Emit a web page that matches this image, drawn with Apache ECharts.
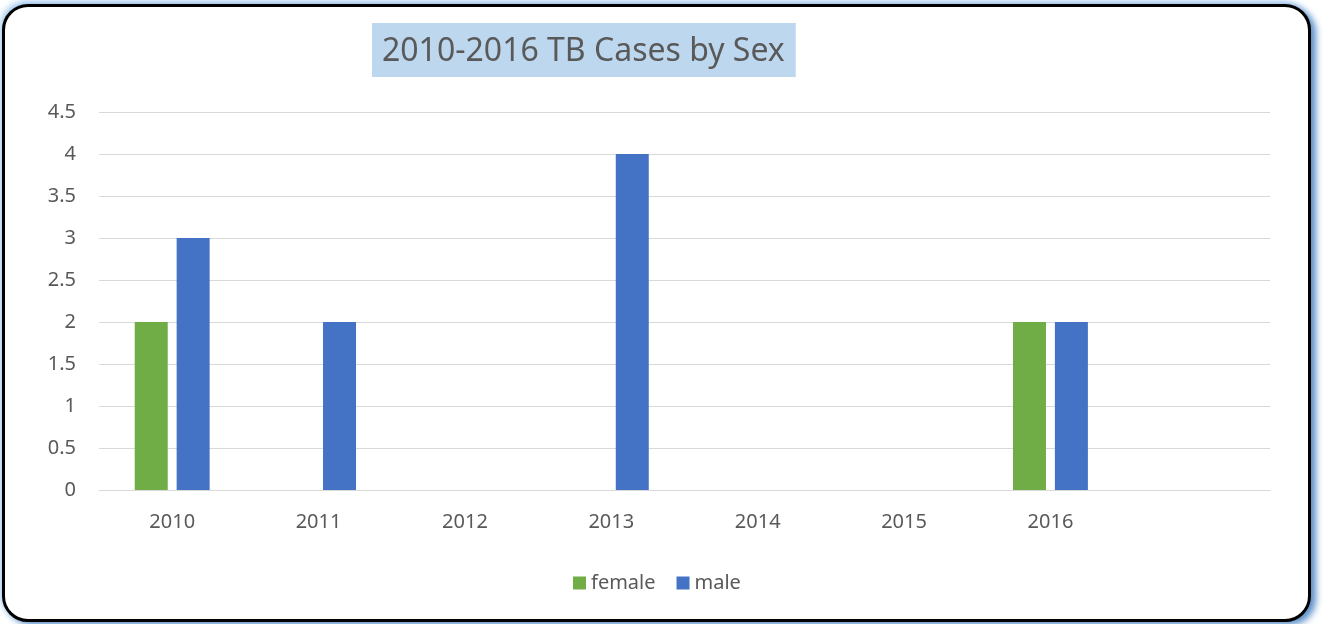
<!DOCTYPE html>
<html>
<head>
<meta charset="utf-8">
<title>2010-2016 TB Cases by Sex</title>
<script src="https://cdn.jsdelivr.net/npm/echarts@6/dist/echarts.min.js"></script>
<style>
  html, body { margin: 0; padding: 0; background: #fff; }
  #wrap { position: relative; width: 1325px; height: 624px; overflow: hidden; }
  /* rounded frame with blue glow, like the office chart border */
  #frame {
    position: absolute; left: 2px; top: 4px; width: 1303px; height: 612px;
    border: 3px solid #000; border-radius: 26px;
    box-shadow: 5px 3px 7px #5b8fc9, -2px -3px 6px #a9cdef;
    background: #fff;
  }
  #chart { position: absolute; left: 0; top: 0; width: 1325px; height: 624px; }
</style>
</head>
<body>
<div id="wrap">
  <div id="frame"></div>
  <div id="chart"></div>
</div>
<script>
// 数据
var years = ["2010", "2011", "2012", "2013", "2014", "2015", "2016", ""];
var female = [2, 0, 0, 0, 0, 0, 2];
var male = [3, 2, 0, 4, 0, 0, 2];
var seriesNames = ["female", "male"];

var chart = echarts.init(document.getElementById("chart"));
var font = "'Noto Sans', sans-serif";

var option = {
  color: ["#70AD47", "#4472C4"],
  title: {
    text: "2010-2016 TB Cases by Sex",
    left: 372,
    top: 23,
    padding: [11, 11, 7, 10],
    backgroundColor: "#BDD7EE",
    textStyle: {
      fontFamily: font,
      fontSize: 32,
      fontWeight: "normal",
      color: "#595959",
      lineHeight: 36
    }
  },
  legend: {
    data: seriesNames,
    left: 568,
    top: 568,
    itemWidth: 13,
    itemHeight: 13,
    itemGap: 21,
    icon: "rect",
    textStyle: { fontFamily: font, fontSize: 20, color: "#595959" }
  },
  grid: { left: 99, right: 55, top: 112, bottom: 134 },
  xAxis: {
    type: "category",
    data: years,
    axisLine: { lineStyle: { color: "#D9D9D9", width: 1 } },
    axisTick: { show: false },
    axisLabel: { fontFamily: font, fontSize: 20, color: "#595959", margin: 22 }
  },
  yAxis: {
    type: "value",
    min: 0,
    max: 4.5,
    interval: 0.5,
    axisLine: { show: false },
    axisTick: { show: false },
    splitLine: { lineStyle: { color: "#D9D9D9", width: 1 } },
    axisLabel: { fontFamily: font, fontSize: 20, color: "#595959", margin: 23 }
  },
  series: [
    { name: "female", type: "bar", data: female, barWidth: 33, barGap: "27%" },
    { name: "male", type: "bar", data: male, barWidth: 33, barGap: "27%" }
  ]
};

chart.setOption(option);
window.onresize = chart.resize;
</script>
</body>
</html>
